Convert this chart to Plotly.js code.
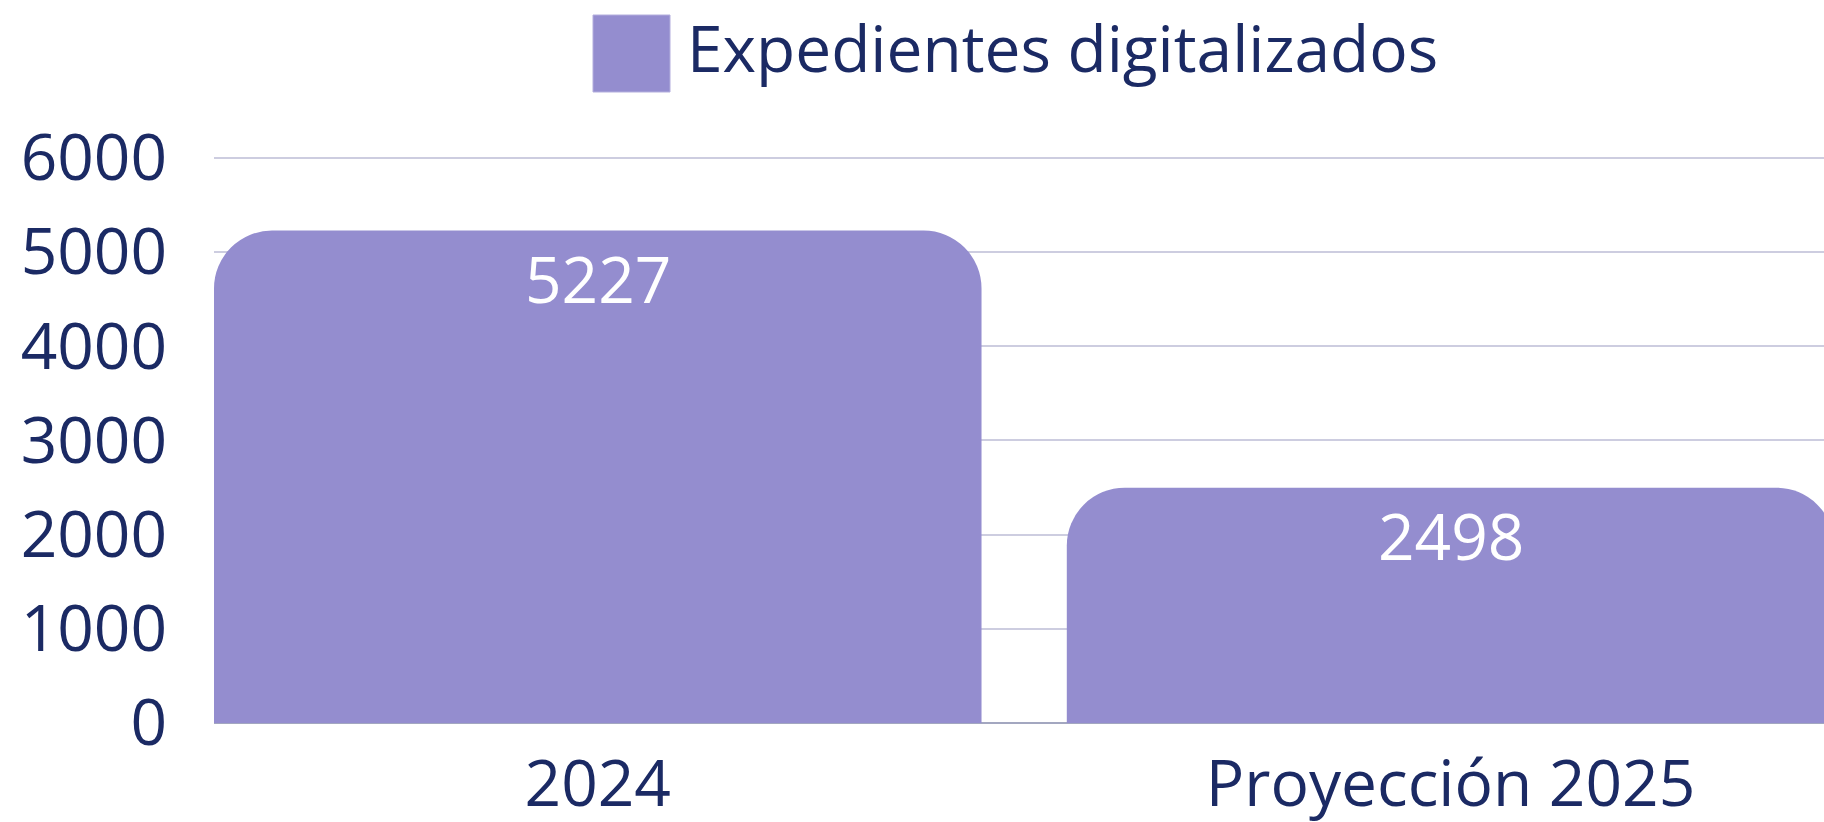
<!DOCTYPE html>
<html>
<head>
<meta charset="utf-8">
<script src="https://cdn.plot.ly/plotly-3.0.1.min.js"></script>
<style>
html,body{margin:0;padding:0;background:#fff;overflow:hidden;}
#chart{width:1824px;height:822px;}
</style>
</head>
<body>
<div id="chart"></div>
<script>
const categories = ["2024", "Proyección 2025"];
const values = [5227, 2498];
const seriesName = "Expedientes digitalizados";
const yTickValues = [0, 1000, 2000, 3000, 4000, 5000, 6000];
const yTickLabels = ["0", "1000", "2000", "3000", "4000", "5000", "6000"];

const barColor = "#948dcf";
const textColor = "#1b2a64";
const gridColor = "#cdcde0";
const FONT = "Open Sans, Noto Sans, sans-serif";

const trace = {
  type: "bar",
  x: categories,
  y: values,
  name: seriesName,
  marker: {color: barColor, cornerradius: 58},
  showlegend: false,
  hoverinfo: "x+y"
};

// value labels inside the top of each bar, anchored at each bar's data point
// (category axis position given by the category's index)
const valueLabels = categories.map((c, i) => ({
  xref: "x", yref: "y",
  x: i, y: values[i],
  xanchor: "center", yanchor: "middle",
  yshift: -48,
  text: String(values[i]),
  showarrow: false,
  font: {family: FONT, size: 64, color: "#ffffff"}
}));

const plotL = 214, plotW = 1610, plotB = 723, plotH = 570;

const layout = {
  width: 1824,
  height: 822,
  margin: {l: 214, r: 0, t: 153, b: 99, pad: 0},
  paper_bgcolor: "#ffffff",
  plot_bgcolor: "#ffffff",
  font: {family: FONT, size: 64, color: textColor},
  bargap: 0.1,
  showlegend: false,
  xaxis: {
    type: "category",
    range: [-0.45, 1.4379],
    showgrid: false,
    showline: false,
    ticks: "",
    ticklabelstandoff: 18,
    tickfont: {family: FONT, size: 64, color: textColor},
    fixedrange: true
  },
  yaxis: {
    range: [0, 6050],
    tickvals: yTickValues,
    ticktext: yTickLabels,
    showgrid: true,
    gridcolor: gridColor,
    gridwidth: 2,
    zeroline: true,
    zerolinecolor: "#a3a7c0",
    zerolinewidth: 2,
    showline: false,
    ticks: "",
    ticklabelstandoff: 46,
    tickfont: {family: FONT, size: 64, color: textColor},
    fixedrange: true
  },
  shapes: [{
    type: "rect",
    xref: "paper", yref: "paper",
    x0: (593 - plotL) / plotW, x1: (670 - plotL) / plotW,
    y0: (plotB - 92) / plotH, y1: (plotB - 15) / plotH,
    fillcolor: barColor,
    line: {width: 1, color: "#b3aedd"}
  }],
  annotations: valueLabels.concat([{
    xref: "paper", yref: "paper",
    x: (684.5 - plotL) / plotW, y: (plotB - 47) / plotH,
    xanchor: "left", yanchor: "middle",
    text: seriesName,
    showarrow: false,
    font: {family: FONT, size: 64, color: textColor}
  }])
};

Plotly.newPlot("chart", [trace], layout, {displayModeBar: false, staticPlot: true});
</script>
</body>
</html>
